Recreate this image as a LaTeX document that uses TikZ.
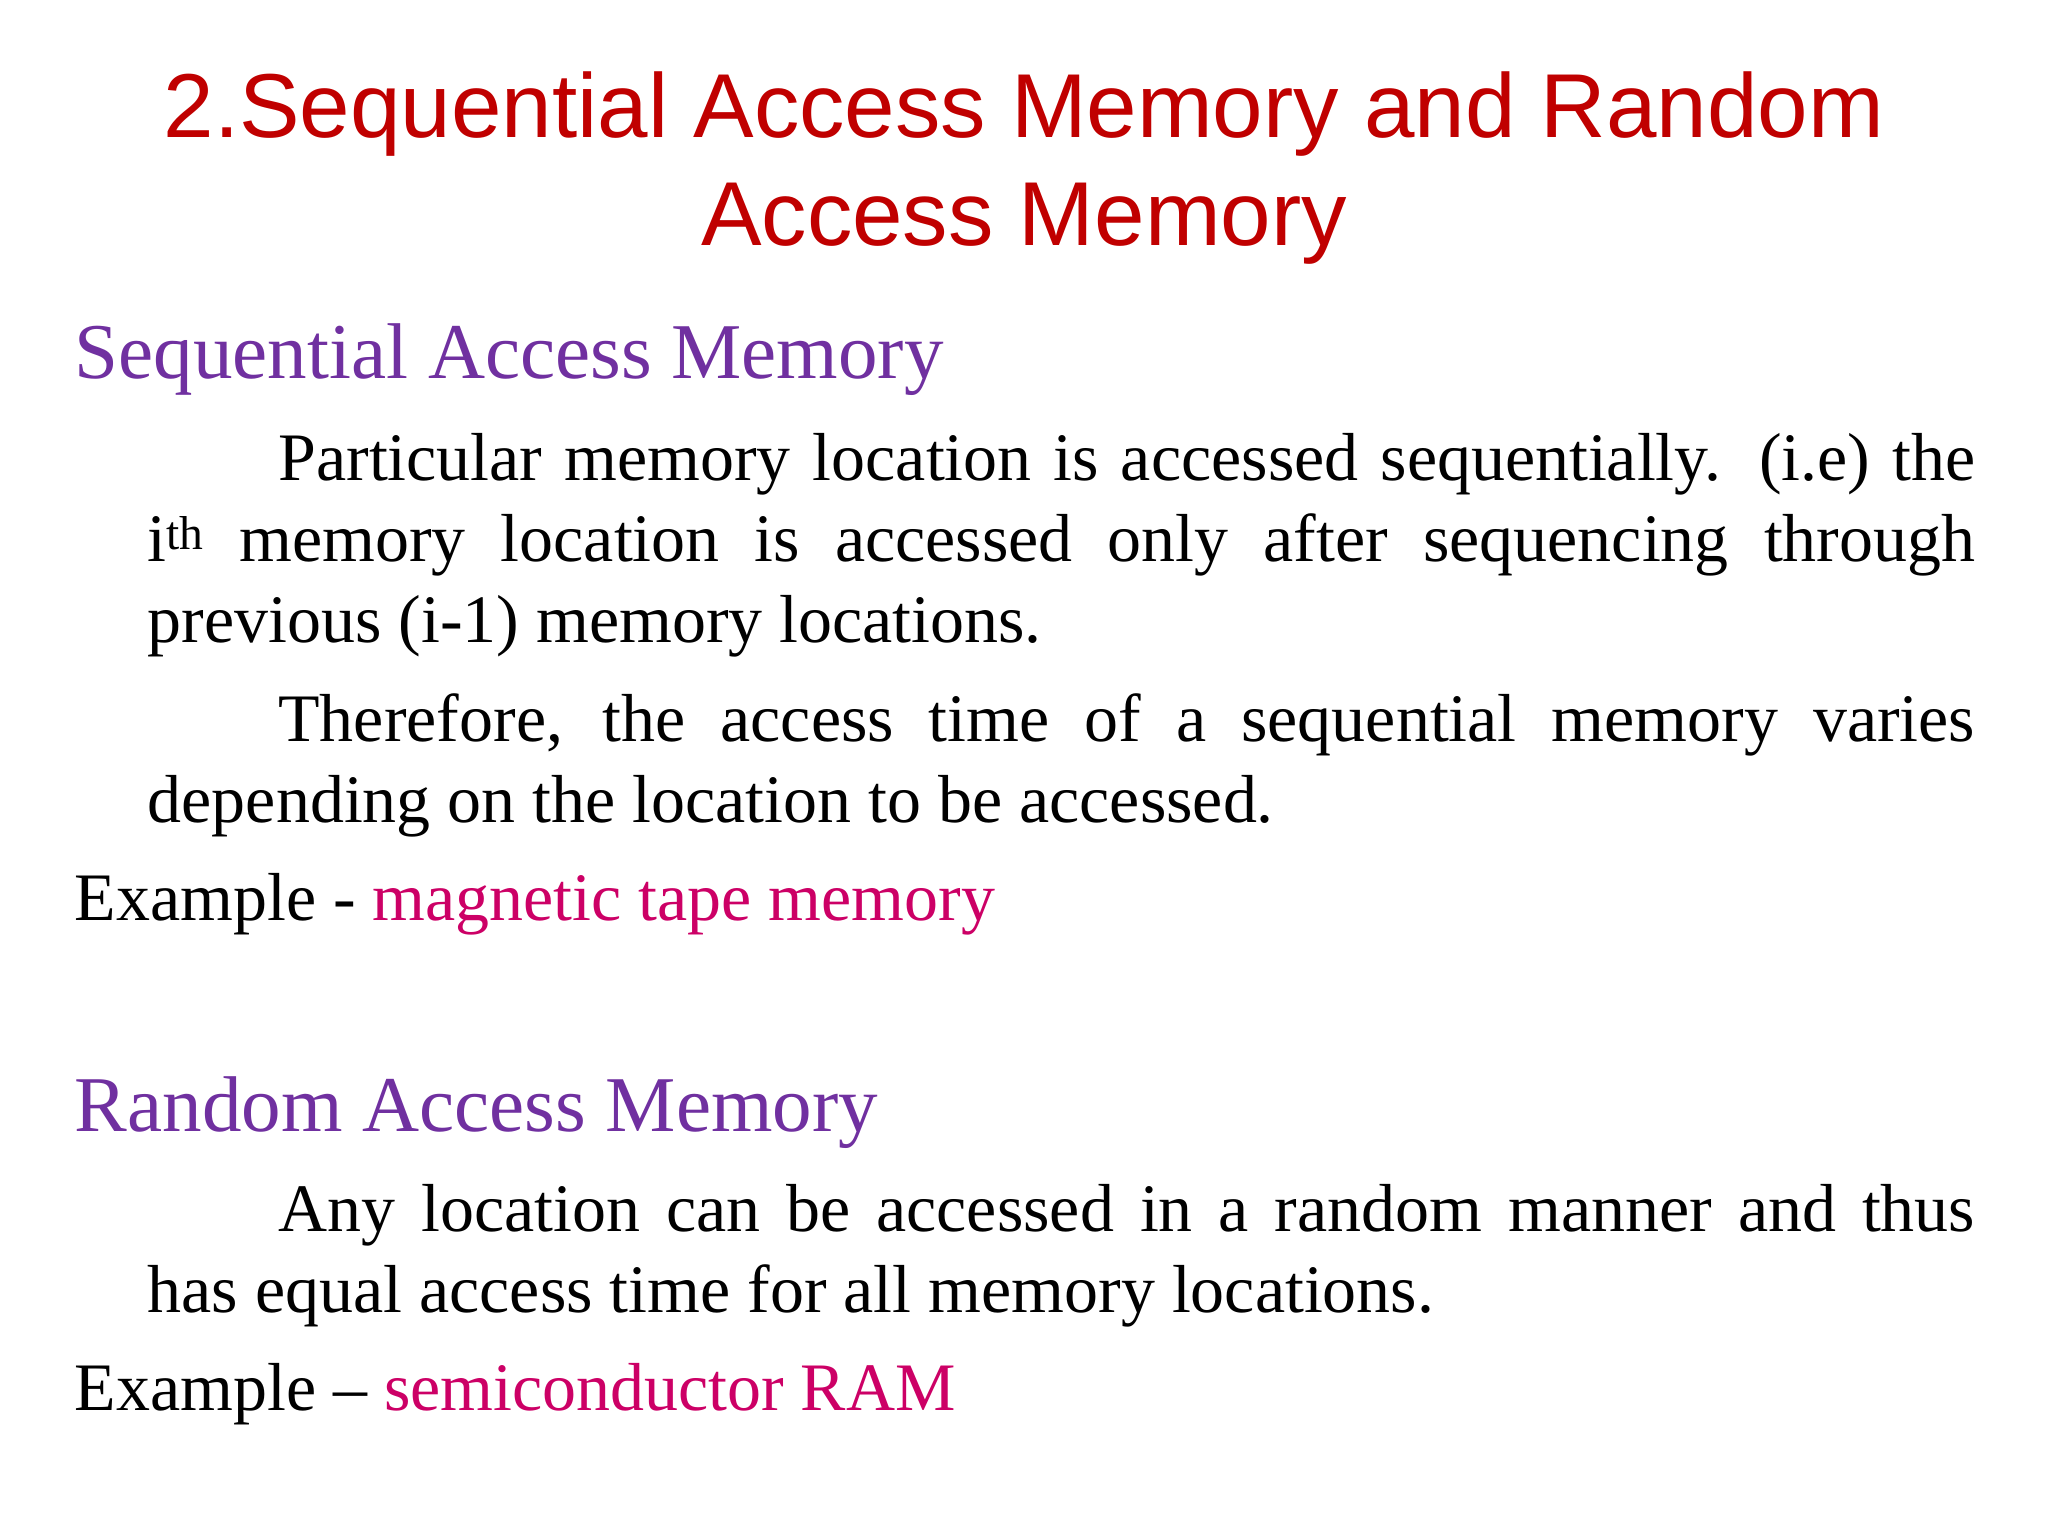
\documentclass[tikz,border=0pt]{standalone}
\usepackage{fontspec}
\setmainfont{Liberation Serif}
\newfontfamily\titlefont{Liberation Sans}
\definecolor{tred}{HTML}{C00000}
\definecolor{hpurp}{HTML}{7030A0}
\definecolor{exmag}{HTML}{CC0066}
\newcommand{\parabox}[1]{\vtop{\hsize=1399pt\parindent=100pt\hyphenpenalty=10000\exhyphenpenalty=10000\fontsize{52}{62}\selectfont #1}}
\begin{document}
\begin{tikzpicture}[x=1pt,y=-1pt,
  ttl/.style={font=\titlefont\fontsize{69.5}{83}\selectfont,text=tred,inner sep=0,anchor=base},
  hd/.style={font=\fontsize{60.5}{66}\selectfont,text=hpurp,inner sep=0,anchor=base west},
  bd/.style={inner sep=0,anchor=base west},
  ex/.style={font=\fontsize{52}{62}\selectfont,inner sep=0,anchor=base west}]
\useasboundingbox (0,0) rectangle (1568,1176);
\node[ttl] (t1) at (784,105) {2.Sequential Access Memory and Random};
\node[ttl] (t2) at (784,188) {Access Memory};
\node[hd] (h1) at (57,290) {Sequential Access Memory};
\node[bd] (p1) at (113,368) {\parabox{Particular memory location is accessed sequentially. (i.e) the\linebreak i\textsuperscript{th} memory location is accessed only after sequencing through\linebreak previous (i-1) memory locations.}};
\node[bd] (p2) at (113,568) {\parabox{Therefore, the access time of a sequential memory varies\linebreak depending on the location to be accessed.}};
\node[ex] (e1) at (57,705) {Example - \textcolor{exmag}{magnetic tape memory}};
\node[hd] (h2) at (57,866) {Random Access Memory};
\node[bd] (p3) at (113,943) {\parabox{Any location can be accessed in a random manner and thus\linebreak has equal access time for all memory locations.}};
\node[ex] (e2) at (57,1080) {Example -- \textcolor{exmag}{semiconductor RAM}};
\end{tikzpicture}
\end{document}
